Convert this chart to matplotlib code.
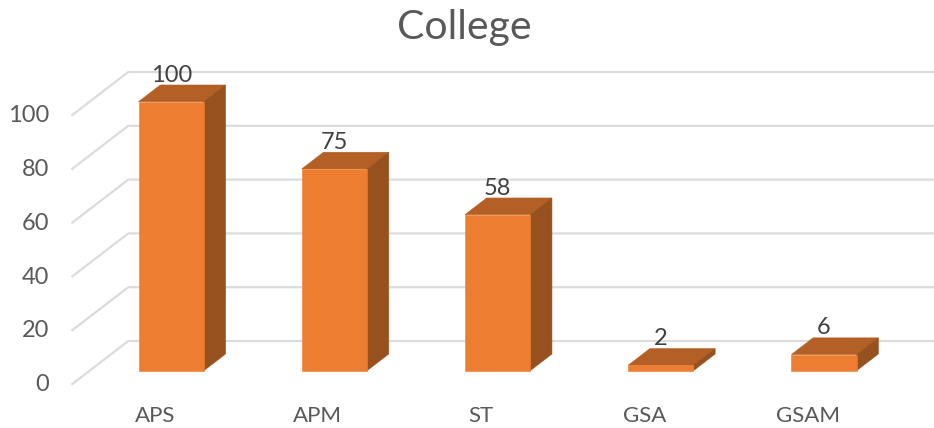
import matplotlib.pyplot as plt
from matplotlib.patches import Polygon

plt.rcParams['font.family'] = ['Lato', 'DejaVu Sans']

categories = ['APS', 'APM', 'ST', 'GSA', 'GSAM']
values = [100, 75, 58, 2, 6]
y_ticks = [0, 20, 40, 60, 80, 100]

W, H = 934, 428
X0, X_STEP = 171.2, 163.2   # pixel of first category, pixels per category
Y0, Y_SCALE = 370.7, 2.69   # pixel of value 0, pixels per unit

BAR_W = 0.40
DEPTH_X = 21.7 / X_STEP
DEPTH_Y = 16.7 / Y_SCALE

GREY = '#595959'
GRID = '#DCDCDC'
FRONT = '#ED7D31'
TOP = '#B35F25'
SIDE = '#97511F'

fig = plt.figure(figsize=(W / 100, H / 100), dpi=100)
ax = fig.add_axes([0, 0, 1, 1])
ax.set_xlim(-X0 / X_STEP, (W - X0) / X_STEP)
ax.set_ylim(-(H - Y0) / Y_SCALE, Y0 / Y_SCALE)
ax.axis('off')

# back wall lines plus the slanted run on the side wall
wall_left = (72.3 - X0) / X_STEP
wall_back = (128.3 - X0) / X_STEP
wall_right = (W - X0) / X_STEP
for v in y_ticks:
    ax.plot([wall_left, wall_back, wall_right], [v - 4.94, v + 11.04, v + 11.04],
            color=GRID, lw=1.6, solid_joinstyle='miter', zorder=1)
    ax.text(-X0 / X_STEP + 49 / X_STEP, v - 5.2, str(v), ha='right', va='center',
            fontsize=17, color=GREY)

# fake 3d columns: front, top and right faces
for i, v in enumerate(values):
    l, r = i - BAR_W / 2, i + BAR_W / 2
    ax.add_patch(Polygon([(l, v), (r, v), (r + DEPTH_X, v + DEPTH_Y), (l + DEPTH_X, v + DEPTH_Y)],
                         fc=TOP, ec=TOP, lw=0.4, zorder=3))
    ax.add_patch(Polygon([(r, 0), (r + DEPTH_X, DEPTH_Y), (r + DEPTH_X, v + DEPTH_Y), (r, v)],
                         fc=SIDE, ec=SIDE, lw=0.4, zorder=3))
    ax.add_patch(Polygon([(l, 0), (r, 0), (r, v), (l, v)], fc=FRONT, ec=FRONT, lw=0.4, zorder=4))
    ax.text(i, v + DEPTH_Y + 3.7, str(v), ha='center', va='center',
            fontsize=17, color='#404040', zorder=5)
    ax.text(i - 16.5 / X_STEP, -(415.5 - Y0) / Y_SCALE, categories[i], ha='center', va='center',
            fontsize=16, color=GREY)

fig.text(464.5 / W, 1 - 28 / H, 'College', ha='center', va='center', fontsize=29.5, color=GREY)

fig.savefig('out.png', dpi=100)
